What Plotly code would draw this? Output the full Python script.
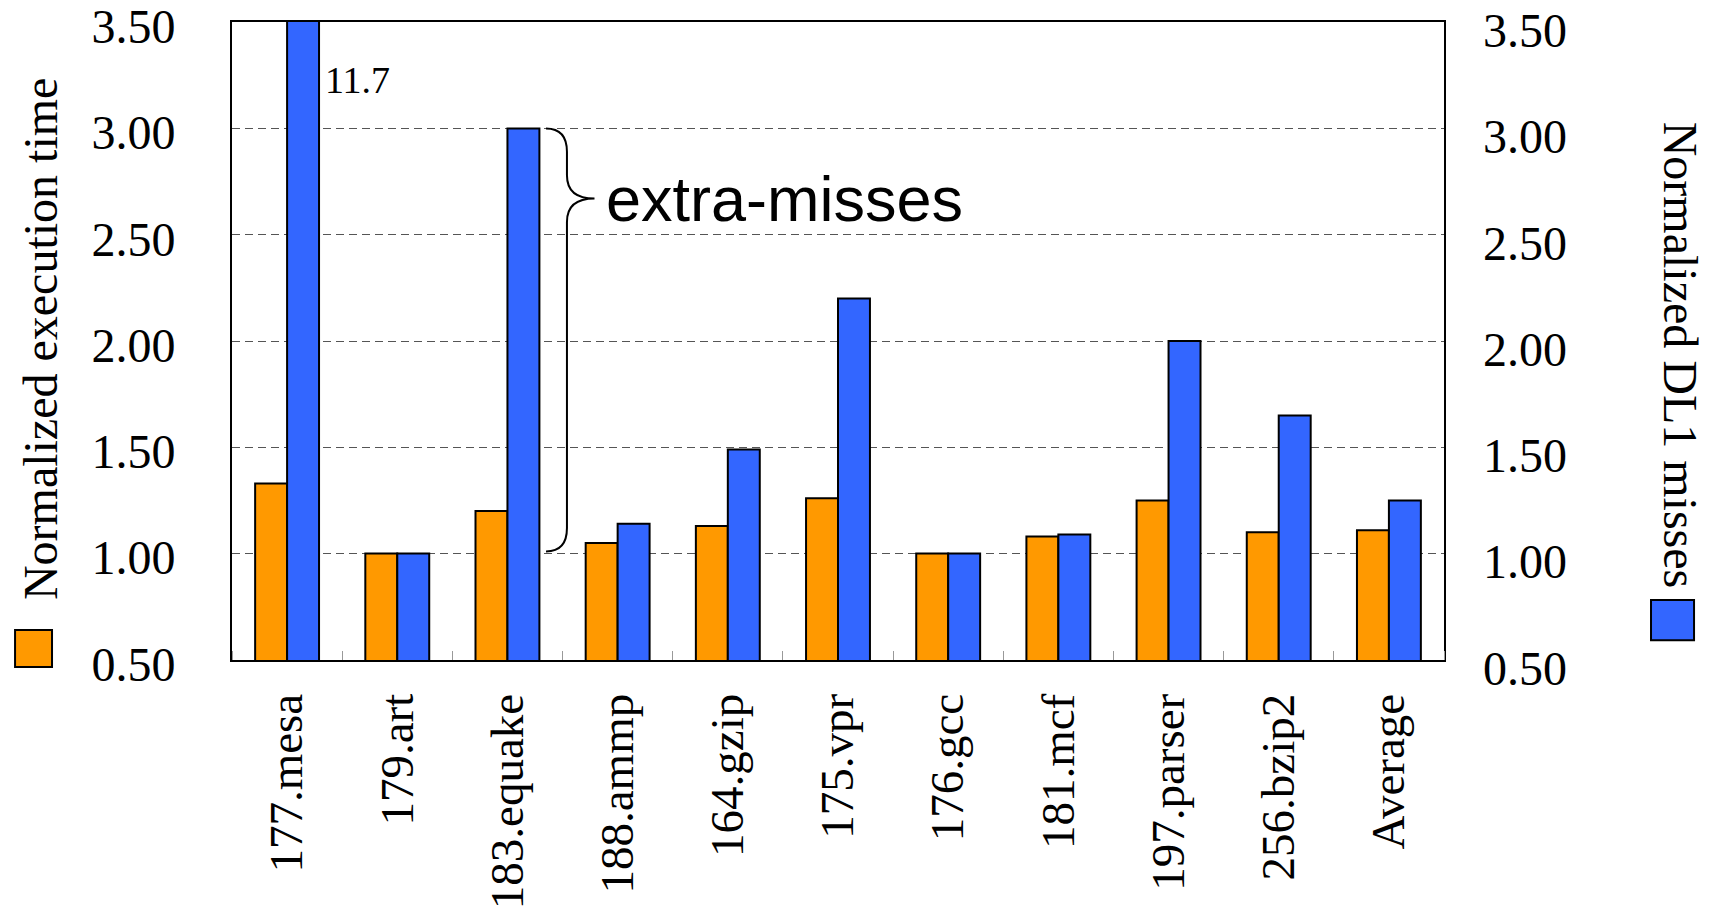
import plotly.graph_objects as go

# Benchmarks and normalized results
benchmarks = ["177.mesa", "179.art", "183.equake", "188.ammp", "164.gzip", "175.vpr",
              "176.gcc", "181.mcf", "197.parser", "256.bzip2", "Average"]
exec_time = [1.33, 1.00, 1.20, 1.05, 1.13, 1.26, 1.00, 1.08, 1.25, 1.10, 1.11]
dl1_misses = [11.7, 1.00, 3.00, 1.14, 1.49, 2.20, 1.00, 1.09, 2.00, 1.65, 1.25]
y_ticks = [0.5, 1.0, 1.5, 2.0, 2.5, 3.0, 3.5]
y_ticktext = ["0.50", "1.00", "1.50", "2.00", "2.50", "3.00", "3.50"]

ORANGE = "#FF9900"
BLUE = "#3366FF"
SERIF = "Liberation Serif"
BAR_W = 0.29
Y_RANGE = [0.4995, 3.5005]

idx = list(range(len(benchmarks)))

fig = go.Figure()
fig.add_trace(go.Bar(
    x=idx, y=exec_time, width=BAR_W, offset=-BAR_W,
    marker=dict(color=ORANGE, line=dict(color="black", width=2)),
    name="Normalized execution time", yaxis="y",
))
fig.add_trace(go.Bar(
    x=idx, y=dl1_misses, width=BAR_W, offset=0,
    marker=dict(color=BLUE, line=dict(color="black", width=2)),
    name="Normalized DL1 misses", yaxis="y2",
))

# value label for the clipped bar
mesa_i = benchmarks.index("177.mesa")
fig.add_annotation(
    x=mesa_i + 0.33, y=3.23, xref="x", yref="y", text=f"{dl1_misses[mesa_i]:.1f}",
    showarrow=False, xanchor="left", yanchor="middle",
    font=dict(family=SERIF, size=38, color="black"),
)

# curly brace spanning the extra misses of 183.equake
eq = benchmarks.index("183.equake")
top = dl1_misses[eq]
bot = 1.01
tip = 2.67
x0 = eq + BAR_W + 0.06
x1 = eq + 0.54
x2 = eq + 0.79
r = 0.11
path = (f"M {x0},{top} Q {x1},{top} {x1},{top - r} "
        f"L {x1},{tip + r} Q {x1},{tip} {x2},{tip} "
        f"Q {x1},{tip} {x1},{tip - r} "
        f"L {x1},{bot + r} Q {x1},{bot} {x0},{bot}")
fig.add_shape(type="path", path=path, xref="x", yref="y",
              line=dict(color="black", width=2))
fig.add_annotation(
    x=eq + 0.88, y=tip, xref="x", yref="y", text="extra-misses",
    showarrow=False, xanchor="left", yanchor="middle",
    font=dict(family="Liberation Sans", size=63, color="black"),
)

# axis titles with their colour keys
fig.add_annotation(
    x=-0.1584, y=0.503, xref="paper", yref="paper", text="Normalized execution time",
    textangle=-90, showarrow=False, xanchor="center", yanchor="middle",
    font=dict(family=SERIF, size=48, color="black"),
)
fig.add_annotation(
    x=1.1947, y=0.477, xref="paper", yref="paper", text="Normalized DL1 misses",
    textangle=90, showarrow=False, xanchor="center", yanchor="middle",
    font=dict(family=SERIF, size=48, color="black"),
)
fig.add_shape(type="rect", xref="paper", yref="paper",
              x0=-0.179, x1=-0.1485, y0=-0.011, y1=0.047,
              fillcolor=ORANGE, line=dict(color="black", width=2))
fig.add_shape(type="rect", xref="paper", yref="paper",
              x0=1.1708, x1=1.2063, y0=0.031, y1=0.094,
              fillcolor=BLUE, line=dict(color="black", width=2))

axis_font = dict(family=SERIF, size=48, color="black")

fig.update_layout(
    width=1711, height=917,
    margin=dict(l=232, r=267, t=22, b=257, autoexpand=False),
    paper_bgcolor="white", plot_bgcolor="white",
    barmode="overlay", showlegend=False,
    font=dict(family=SERIF, color="black"),
    xaxis=dict(
        range=[-0.5, len(benchmarks) - 0.5], automargin=False,
        tickmode="array", tickvals=idx, ticktext=benchmarks,
        tickangle=-90, tickfont=dict(family=SERIF, size=47, color="black"),
        ticks="", ticklabelstandoff=13, ticklabeloverflow="allow",
        showline=True, linecolor="black", linewidth=2, mirror=True,
        showgrid=False, zeroline=False,
        minor=dict(ticks="inside", tick0=0.5, dtick=1, ticklen=9,
                   tickcolor="#999999", tickwidth=1, showgrid=False),
    ),
    yaxis=dict(
        range=Y_RANGE, automargin=False,
        tickmode="array", tickvals=y_ticks, ticktext=y_ticktext,
        tickfont=axis_font, ticks="", ticklabelstandoff=45,
        ticklabelshift=4, ticklabeloverflow="allow",
        showline=True, linecolor="black", linewidth=2, mirror=True,
        showgrid=True, gridcolor="#555555", gridwidth=1, griddash="8px,5px",
        zeroline=False,
    ),
    yaxis2=dict(
        range=Y_RANGE, overlaying="y", side="right", automargin=False,
        tickmode="array", tickvals=y_ticks, ticktext=y_ticktext,
        tickfont=axis_font, ticks="", ticklabelstandoff=38,
        ticklabelshift=8, ticklabeloverflow="allow",
        showgrid=False, zeroline=False, showline=False,
    ),
)

fig.write_html("out.html")
